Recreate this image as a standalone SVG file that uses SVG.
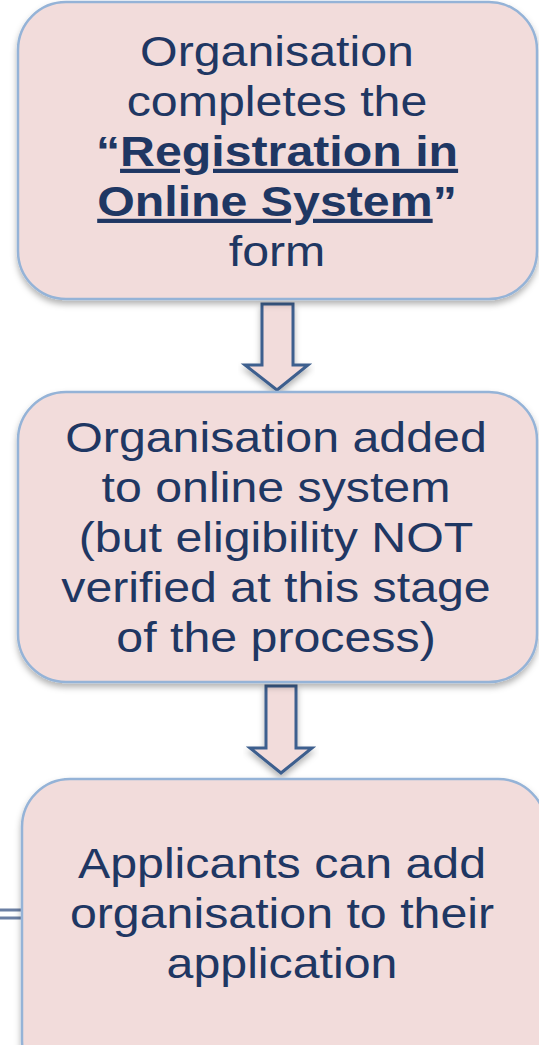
<svg xmlns="http://www.w3.org/2000/svg" width="539" height="1045" viewBox="0 0 539 1045">
<defs>
<filter id="sh" x="-10%" y="-10%" width="120%" height="125%">
<feDropShadow dx="0" dy="4" stdDeviation="3" flood-color="#000" flood-opacity="0.3"/>
</filter>
<style>
.box{fill:#F2DCDB;stroke:#95B3D7;stroke-width:2.5;filter:url(#sh)}
.arr{fill:#F2DCDB;stroke:#3E5F8E;stroke-width:3;stroke-linejoin:miter;filter:url(#sh)}
.t{font-family:"Liberation Sans",Arial,sans-serif;font-size:42px;fill:#1F3763;text-anchor:middle}
.bo{font-weight:bold}
.b{font-weight:bold;text-decoration:underline}
.lk{stroke:#6B7FA3;stroke-width:3;fill:none}
</style>
</defs>
<g id="connectors">
<path class="arr" d="M262,304 H293 V365 H308 L277,390 L245,365 H262 Z"/>
<path class="arr" d="M266,686 H296 V748 H312 L281,773 L250,748 H266 Z"/>
<line class="lk" x1="0" y1="910" x2="21" y2="910"/>
<line class="lk" x1="0" y1="918" x2="21" y2="918"/>
</g>
<g id="node1">
<rect class="box" x="18" y="2" width="519" height="297" rx="48" ry="48"/>
<g transform="translate(277,0) scale(1.15,1)">
<text class="t" x="0" y="66">Organisation</text>
<text class="t" x="0" y="116">completes the</text>
<text class="t" x="0" y="166"><tspan class="bo">“</tspan><tspan class="b">Registration in</tspan></text>
<text class="t" x="0" y="216"><tspan class="b">Online System</tspan><tspan class="bo">”</tspan></text>
<text class="t" x="0" y="266">form</text>
</g>
</g>
<g id="node2">
<rect class="box" x="18" y="392" width="519" height="290" rx="48" ry="48"/>
<g transform="translate(276,0) scale(1.15,1)">
<text class="t" x="0" y="452">Organisation added</text>
<text class="t" x="0" y="502">to online system</text>
<text class="t" x="0" y="552">(but eligibility NOT</text>
<text class="t" x="0" y="602">verified at this stage</text>
<text class="t" x="0" y="652">of the process)</text>
</g>
</g>
<g id="node3">
<rect class="box" x="22" y="779" width="524" height="310" rx="48" ry="48"/>
<g transform="translate(282,0) scale(1.15,1)">
<text class="t" x="0" y="878">Applicants can add</text>
<text class="t" x="0" y="928">organisation to their</text>
<text class="t" x="0" y="978">application</text>
</g>
</g>
</svg>
